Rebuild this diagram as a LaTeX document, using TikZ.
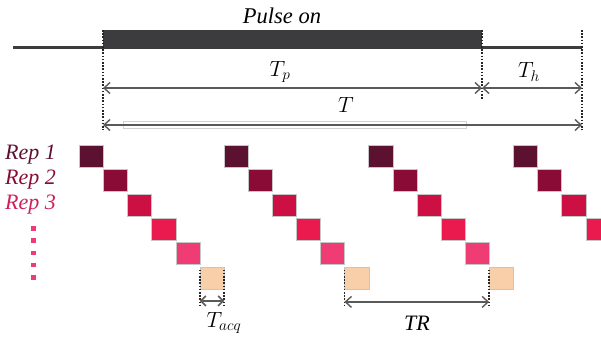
\RequirePackage{fix-cm}
\documentclass[tikz,border=0pt]{standalone}
\usepackage{fontspec}
\setmainfont{Liberation Serif}
\usetikzlibrary{arrows.meta}
\definecolor{cA}{HTML}{5C1130}
\definecolor{cB}{HTML}{8A0C36}
\definecolor{cC}{HTML}{CC1044}
\definecolor{cD}{HTML}{EA1A4F}
\definecolor{cE}{HTML}{F03C74}
\definecolor{cF}{HTML}{F9CFAA}
\definecolor{barcol}{HTML}{3C3C3E}
\definecolor{arrcol}{HTML}{5A5A5A}
\definecolor{repC}{HTML}{CC2258}
\tikzset{
  sqbox/.style={draw=gray!45, line width=0.4pt, minimum width=24.1pt, minimum height=22pt, inner sep=0pt, anchor=north west},
  dotline/.style={line width=1.6pt, dash pattern=on 1.6pt off 1.6pt, black!85},
  dimarrow/.style={arrcol, line width=1.8pt, {Straight Barb[length=6pt,width=11pt,line width=1.4pt]}-{Straight Barb[length=6pt,width=11pt,line width=1.4pt]}},
  lbl/.style={font=\fontsize{22.5}{26}\selectfont\itshape, inner sep=0pt},
  replbl/.style={font=\fontsize{22}{26}\selectfont\itshape, inner sep=0pt, anchor=west},
  mlbl/.style={font=\fontsize{22}{26}\selectfont, inner sep=0pt},
}
\begin{document}
\begin{tikzpicture}[x=1pt,y=-1pt]
\useasboundingbox (0,0) rectangle (601,343);
% pulse line
\coordinate (l0) at (13,47);
\coordinate (l1) at (103,47);
\coordinate (l2) at (482,47);
\coordinate (l3) at (582,47);
\draw[barcol, line width=3pt] (l0) -- (l1);
\draw[barcol, line width=3pt] (l2) -- (l3);
\node[fill=barcol, inner sep=0pt, minimum width=379pt, minimum height=19pt, anchor=north west] (bar) at (103,30) {};
\node[lbl] (pulse) at (282,16) {Pulse on};
% dotted verticals
\coordinate (d0t) at (103,30); \coordinate (d0b) at (103,130);
\coordinate (d1t) at (482,30); \coordinate (d1b) at (482,100);
\coordinate (d2t) at (582,30); \coordinate (d2b) at (582,130);
\draw[dotline] (d0t) -- (d0b);
\draw[dotline] (d1t) -- (d1b);
\draw[dotline] (d2t) -- (d2b);
% dimension arrows
\coordinate (tp0) at (103,88); \coordinate (tp1) at (482,88); \coordinate (th1) at (582,88);
\draw[dimarrow] (tp0) -- (tp1);
\draw[dimarrow] (tp1) -- (th1);
\node[draw=gray!35, line width=0.6pt, fill=white, inner sep=0pt, minimum width=343pt, minimum height=7pt, anchor=north west] (tbox) at (123,121) {};
\coordinate (t0) at (103,125); \coordinate (t1) at (582,125);
\draw[dimarrow] (t0) -- (t1);
\node[mlbl] (Tp) at (280,72) {$T_p$};
\node[mlbl] (Th) at (529,72) {$T_h$};
\node[mlbl] (T) at (346,105) {$T$};
% rep labels
\node[replbl, text=cA] (r1) at (5,155) {Rep 1};
\node[replbl, text=cB] (r2) at (5,180) {Rep 2};
\node[replbl, text=repC] (r3) at (5,205) {Rep 3};
\foreach \i in {0,...,4}{
  \fill[cE] (31,{226+12.3*\i}) rectangle (35.5,{230.5+12.3*\i});
}
% squares
\foreach \g in {0,1,2}{
  \foreach \k/\c in {0/cA,1/cB,2/cC,3/cD,4/cE,5/cF}{
    \node[sqbox, fill=\c] (s\g-\k) at ({79+144.7*\g+24.15*\k},{145+24.3*\k}) {};
  }
}
\foreach \k/\c in {0/cA,1/cB,2/cC,3/cD}{
  \node[sqbox, fill=\c] (s3-\k) at ({79+144.7*3+24.15*\k},{145+24.3*\k}) {};
}
% Tacq
\coordinate (a0t) at (s0-5.north west); \coordinate (a0b) at ([yshift=-18pt]s0-5.south west);
\coordinate (a1t) at (s0-5.north east); \coordinate (a1b) at ([yshift=-18pt]s0-5.south east);
\draw[dotline] ([yshift=-3pt]a0t) -- (a0b);
\draw[dotline] ([yshift=-3pt]a1t) -- (a1b);
\coordinate (aq0) at ([yshift=-12pt]s0-5.south west);
\coordinate (aq1) at ([yshift=-12pt]s0-5.south east);
\draw[arrcol, line width=2.2pt, {Straight Barb[length=5pt,width=10pt,line width=1.6pt]}-{Straight Barb[length=5pt,width=10pt,line width=1.6pt]}] (aq0) -- (aq1);
\node[mlbl] (Tacq) at (224,323) {$T_{acq}$};
% TR
\coordinate (b0t) at (s1-5.north west); \coordinate (b0b) at ([yshift=-18pt]s1-5.south west);
\coordinate (b1t) at (s2-5.north west); \coordinate (b1b) at ([yshift=-18pt]s2-5.south west);
\draw[dotline] ([yshift=-3pt]b0t) -- (b0b);
\draw[dotline] ([yshift=-3pt]b1t) -- (b1b);
\coordinate (tr0) at ([yshift=-13pt]s1-5.south west);
\coordinate (tr1) at ([yshift=-13pt]s2-5.south west);
\draw[dimarrow] (tr0) -- (tr1);
\node[mlbl] (TR) at (417,323) {$\mathit{TR}$};
\end{tikzpicture}
\end{document}
